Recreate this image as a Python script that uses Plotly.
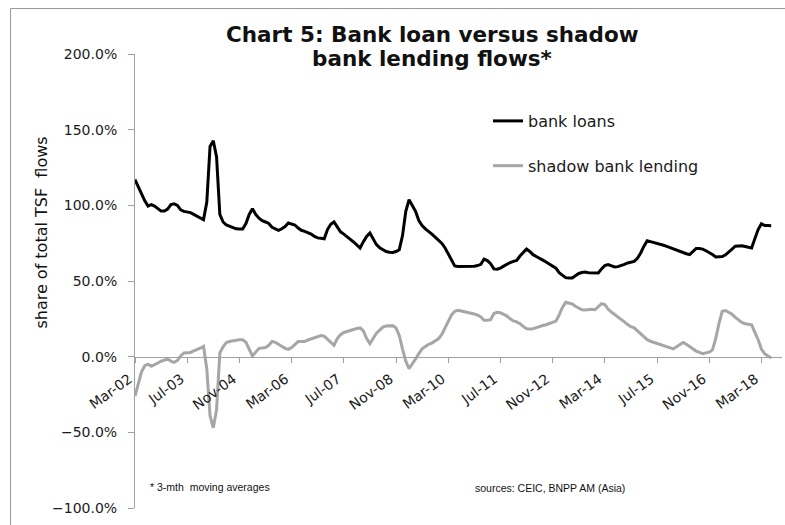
import pandas as pd
import plotly.graph_objects as go

# Monthly categories Mar-02 .. Jun-18
months = pd.date_range("2002-03-01", periods=196, freq="MS").strftime("%b-%y").tolist()
tick_labels = ["Mar-02", "Jul-03", "Nov-04", "Mar-06", "Jul-07", "Nov-08", "Mar-10",
               "Jul-11", "Nov-12", "Mar-14", "Jul-15", "Nov-16", "Mar-18"]

# share of total TSF flows, %, 3-mth moving averages
bank_loans = [
    117, 112, 107, 103, 99.5, 100.4, 99.5, 98, 96.2, 96.2,
    97.5, 100.5, 101, 100, 97, 96, 95.8, 95.2, 94, 93,
    91.5, 90.5, 102, 138.9, 142.7, 132, 94, 89, 87, 86,
    85.4, 84.5, 84.3, 84.3, 88, 94, 97.8, 94, 91.5, 89.8,
    89, 88, 85.5, 84.5, 83.5, 84.5, 86, 88.3, 87.8, 87,
    85, 83.5, 82.8, 82, 81, 79.5, 78.5, 78.2, 77.9, 84,
    87.5, 89, 85.5, 82.5, 81, 79.5, 77.5, 75.8, 73.5, 71.8,
    76, 79.5, 81.7, 77.5, 74, 72, 70.5, 69.5, 69, 68.9,
    69.5, 70.7, 80, 96, 103.7, 99.5, 96, 90, 86.7, 84.5,
    83, 81, 79, 77.3, 75, 72, 68, 63, 60, 59.6,
    59.6, 59.6, 59.6, 59.6, 59.8, 60.2, 61, 64.5, 63.5, 61.5,
    58, 57.8, 58.5, 59.8, 61.2, 62.2, 63, 63.6, 66.5, 69,
    71.1, 69.5, 67.4, 66.2, 65.2, 63.8, 62.5, 61.2, 60, 58.5,
    55.5, 53.8, 52.2, 52, 52, 53.5, 55, 55.6, 55.9, 55.5,
    55.3, 55.3, 55.3, 58, 60.2, 60.8, 60, 59.3, 59.5, 60.1,
    61, 61.9, 62.5, 63, 65, 68.5, 73, 76.6, 76, 75.5,
    75, 74.4, 73.6, 72.9, 72, 71.3, 70.5, 69.6, 68.8, 68,
    67.4, 69.5, 71.5, 71.5, 71.1, 70, 68.9, 67.5, 65.9, 66,
    66.2, 67.3, 68.9, 71, 73, 73.3, 73.3, 72.8, 72.2, 71.8,
    78, 84, 87.8, 86.7, 86.6, 86.5,
]
shadow_bank = [
    -26, -18, -10, -6, -5, -6.4, -5.5, -4.2, -3, -2,
    -1.5, -3, -3.8, -2.5, 0.5, 2.5, 2.6, 2.8, 3.8, 4.6,
    5.6, 6.8, -8, -39, -47, -35, 2.4, 6.5, 9.4, 10,
    10.6, 10.9, 11.1, 11.2, 9.5, 5, 0.5, 3, 5.5, 5.8,
    6.1, 7.5, 10, 9.5, 8.2, 6.8, 5.5, 4.8, 6, 8,
    10, 10.1, 10.1, 11, 11.8, 12.5, 13.3, 14, 13.5, 11.5,
    9, 7.5, 12, 14.5, 16, 16.7, 17.5, 18.3, 18.6, 19,
    17, 12, 8.6, 12, 15.5, 17.5, 19.5, 20.2, 20.4, 20.5,
    19, 14, 5, -3, -8, -5, -1.5, 2, 5.2, 6.8,
    8.2, 9, 10.5, 11.8, 14.5, 19, 23, 27.5, 30, 30.6,
    30.2, 29.8, 29.3, 28.8, 28.2, 27.5, 26.2, 24, 24, 24.5,
    28.5, 29.3, 29, 28, 26.8, 25, 23.6, 23, 21.8, 20,
    18.5, 18.3, 18.5, 19.2, 20.1, 20.6, 21.1, 21.8, 22.5, 23.5,
    27.5, 32.5, 35.9, 35.5, 34.8, 33.3, 32.2, 31, 30.8, 31.3,
    31.3, 31, 33, 35, 34.5, 31.5, 29.5, 28, 26.5, 25,
    23, 21.2, 19.8, 19, 17, 15, 13, 11.2, 10.2, 9.4,
    8.6, 7.9, 7, 6.4, 5.8, 5.1, 6.5, 8, 9.4, 8.2,
    6.8, 5, 3.7, 2.8, 2, 2.5, 3, 4.5, 12, 22,
    30, 30.5, 29.5, 28, 26, 24.5, 22.6, 21.8, 21.4, 21.1,
    16, 11.2, 5, 2, 0.5, -0.9,
]
y_ticks = [-1.0, -0.5, 0.0, 0.5, 1.0, 1.5, 2.0]

W, H = 785, 525
L, R, T, B = 135, 3, 54, 17
PW, PH = W - L - R, H - T - B


def px(x):
    return (x - L) / PW


def py(y):
    return (H - B - y) / PH


fig = go.Figure()
fig.add_trace(go.Scatter(x=months, y=[v / 100 for v in bank_loans], mode="lines",
                         name="bank loans", line=dict(color="#000000", width=3),
                         legendgroup="a"))
fig.add_trace(go.Scatter(x=months, y=[v / 100 for v in shadow_bank], mode="lines",
                         name="shadow bank lending", line=dict(color="#a6a6a6", width=3),
                         legendgroup="b"))

axis_col = "#a0a0a0"
fig.update_layout(
    width=W, height=H,
    margin=dict(l=L, r=R, t=T, b=B, pad=0),
    paper_bgcolor="white", plot_bgcolor="white",
    font=dict(family="DejaVu Sans", color="#1a1a1a"),
    showlegend=True,
    legend=dict(x=px(488), y=py(104), xanchor="left", yanchor="top",
                font=dict(family="DejaVu Sans", size=16, color="#1a1a1a"),
                traceorder="grouped", tracegroupgap=21, bgcolor="rgba(0,0,0,0)",
                borderwidth=0),
    xaxis=dict(type="category", range=[0, PW / 3.2625],
               tickmode="array", tickvals=tick_labels, ticktext=tick_labels,
               tickangle=-36, tickfont=dict(family="DejaVu Sans", size=14, color="#1a1a1a"),
               showgrid=False, zeroline=False, showline=True, linecolor=axis_col, linewidth=1,
               ticks="outside", ticklen=5, tickcolor=axis_col,
               ticklabelshift=-6, ticklabelstandoff=3,
               anchor="free", position=1 / 3),
    yaxis=dict(range=[-1, 2], tickvals=y_ticks, tickformat=".1%",
               tickfont=dict(family="DejaVu Sans", size=14, color="#1a1a1a"),
               showgrid=False, zeroline=False, showline=True, linecolor=axis_col, linewidth=1,
               ticks="outside", ticklen=6, tickcolor=axis_col, ticklabelstandoff=8),
)

fig.add_shape(type="rect", xref="paper", yref="paper",
              x0=px(10.5), x1=px(820), y0=py(8.5), y1=py(560),
              line=dict(color="#9a9a9a", width=1), fillcolor="rgba(0,0,0,0)", layer="below")

ann = [
    dict(text="<b>Chart 5: Bank loan versus shadow</b>", x=px(432.5), y=py(34), size=21.5,
         family="DejaVu Sans", xanchor="center", angle=0),
    dict(text="<b>bank lending flows*</b>", x=px(431.5), y=py(59), size=21.5,
         family="DejaVu Sans", xanchor="center", angle=0),
    dict(text="share of total TSF  flows", x=px(42), y=py(232.6), size=16,
         family="DejaVu Sans", xanchor="center", angle=-90),
    dict(text="* 3-mth  moving averages", x=px(148), y=py(487), size=10.5,
         family="Liberation Sans", xanchor="left", angle=0),
    dict(text="sources: CEIC, BNPP AM (Asia)", x=px(473), y=py(488), size=10.5,
         family="Liberation Sans", xanchor="left", angle=0),
]
for a in ann:
    fig.add_annotation(text=a["text"], x=a["x"], y=a["y"], xref="paper", yref="paper",
                       xanchor=a["xanchor"], yanchor="middle", showarrow=False,
                       textangle=a["angle"],
                       font=dict(family=a["family"], size=a["size"], color="#111111"))

fig.write_html("out.html", config={"displayModeBar": False},
               post_script="document.body.style.margin='0px';document.body.style.overflow='hidden';")
